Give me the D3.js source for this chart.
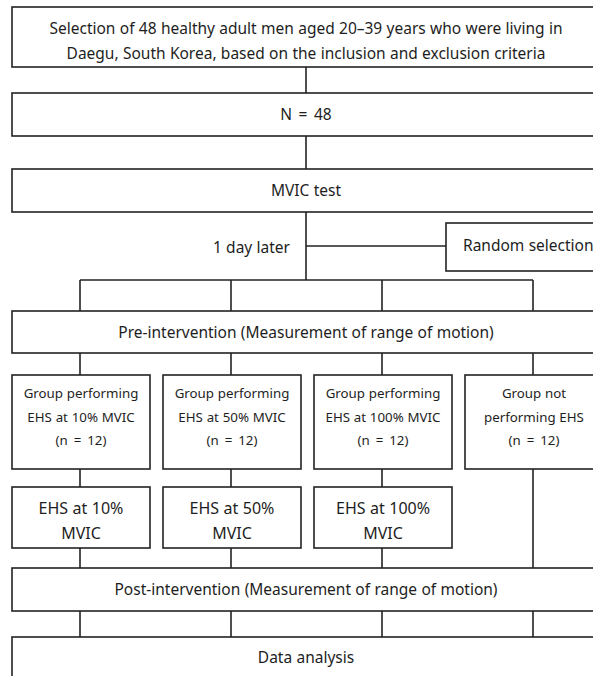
<!DOCTYPE html>
<html><head><meta charset="utf-8">
<script src="https://cdn.jsdelivr.net/npm/d3@7"></script>
<style>
body{margin:0;background:#fff}
svg{display:block}
text{font-family:"Noto Sans",sans-serif;fill:#1e1e1e}
</style>
</head><body>
<svg id="chart" width="593" height="676"></svg>
<script>
// ---- content ----
const selectionLines = ["Selection of 48 healthy adult men aged 20\u201339 years who were living in",
                        "Daegu, South Korea, based on the inclusion and exclusion criteria"];
const sampleLines = ["N = 48"];
const testLines = ["MVIC test"];
const delayLabel = "1 day later";
const randomLabel = "Random selection";
const preLines = ["Pre-intervention (Measurement of range of motion)"];
const groupIds = ["g10", "g50", "g100", "none"];
const groupLines = [
  ["Group performing", "EHS at 10% MVIC", "(n = 12)"],
  ["Group performing", "EHS at 50% MVIC", "(n = 12)"],
  ["Group performing", "EHS at 100% MVIC", "(n = 12)"],
  ["Group not", "performing EHS", "(n = 12)"]
];
const interventionLines = [
  ["EHS at 10%", "MVIC"],
  ["EHS at 50%", "MVIC"],
  ["EHS at 100%", "MVIC"],
  null
];
const postLines = ["Post-intervention (Measurement of range of motion)"];
const analysisLines = ["Data analysis"];

// ---- layout ----
const svg = d3.select("#chart");
const stroke = "#222", sw = 1.6;
const mainX0 = 12, mainX1 = 601, mainCx = 306;
const col = d3.scaleBand().domain(groupIds).range([12, 603]).paddingInner(13 / 151).paddingOuter(0);
const colC = id => col(id) + col.bandwidth() / 2 - 1;

function box(x0, y0, x1, y1) {
  svg.append("rect").attr("x", x0).attr("y", y0).attr("width", x1 - x0).attr("height", y1 - y0)
    .attr("fill", "#fff").attr("stroke", stroke).attr("stroke-width", sw);
}
function line(x0, y0, x1, y1) {
  svg.append("line").attr("x1", x0).attr("y1", y0).attr("x2", x1).attr("y2", y1)
    .attr("stroke", stroke).attr("stroke-width", sw);
}
function label(lines, cx, cy0, dy, size, anchor) {
  lines.forEach((t, i) => {
    svg.append("text").attr("x", cx).attr("y", cy0 + i * dy)
      .attr("text-anchor", anchor || "middle").attr("dominant-baseline", "central")
      .attr("font-size", size)
      .attr("word-spacing", t.includes("=") ? 2.5 : 0.3)
      .text(t);
  });
}

// connectors first
line(mainCx, 67, mainCx, 93);
line(mainCx, 136, mainCx, 169);
line(mainCx, 212, mainCx, 280);
line(mainCx, 246, 446, 246);
line(colC("g10"), 280, colC("none"), 280);
groupIds.forEach(id => {
  line(colC(id), 280, colC(id), 311);
  line(colC(id), 353, colC(id), 375);
  line(colC(id), 611, colC(id), 637);
});
groupIds.forEach((id, i) => {
  if (interventionLines[i]) {
    line(colC(id), 469, colC(id), 487);
    line(colC(id), 548, colC(id), 568);
  } else {
    line(colC(id), 469, colC(id), 568);
  }
});

// main boxes
box(mainX0, 7, mainX1, 67);
label(selectionLines, mainCx, 28, 25, 15.5);
box(mainX0, 93, mainX1, 136);
label(sampleLines, mainCx, 114, 0, 15.5);
box(mainX0, 169, mainX1, 212);
label(testLines, mainCx, 190, 0, 15.5);
label([delayLabel], 290, 247, 0, 15.5, "end");
box(446, 223, 610, 271);
label([randomLabel], 463, 245, 0, 15.5, "start");
box(mainX0, 311, mainX1, 353);
label(preLines, mainCx, 332, 0, 15.5);

// group boxes
groupIds.forEach((id, i) => {
  const x0 = col(id), x1 = col(id) + col.bandwidth();
  box(x0, 375, x1, 469);
  label(groupLines[i], colC(id) + 1, 393, 23.5, 13.3);
  if (interventionLines[i]) {
    box(x0, 487, x1, 548);
    label(interventionLines[i], colC(id) + 1, 508, 25, 16);
  }
});

box(mainX0, 568, mainX1, 611);
label(postLines, mainCx, 589, 0, 15.5);
box(mainX0, 637, mainX1, 700);
label(analysisLines, mainCx, 657, 0, 15.5);
</script>
</body></html>
